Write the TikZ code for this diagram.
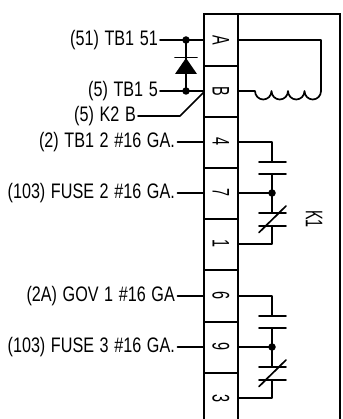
\documentclass[tikz,border=0pt]{standalone}
\usepackage{fontspec}
\setmainfont[FakeStretch=0.77,WordSpace=1.25]{Liberation Sans}
\newfontfamily\termfont[FakeStretch=0.6]{Liberation Sans}
\begin{document}
\begin{tikzpicture}[x=1pt,y=-1pt,
  wire/.style={line width=1.7pt,line cap=round,line join=round},
  frame/.style={line width=2pt},
  lbl/.style={anchor=east,inner sep=0pt,font=\fontsize{21}{21}\selectfont},
  term/.style={rotate=-90,inner sep=0pt,font=\termfont\fontsize{24}{24}\selectfont},
  dot/.style={circle,fill=black,inner sep=0pt,minimum size=7.5pt}]
\useasboundingbox (0,0) rectangle (342,419);
% frame
\draw[frame] (204,419) -- (204,14.5) -- (340,14.5) -- (340,419);
\draw[frame] (238,14.5) -- (238,419);
\foreach \y in {66,117,168,219,270,322,373} \draw[frame] (204,\y) -- (238,\y);
% terminals
\node[term] (tA) at (221,40) {A};
\node[term] (tB) at (221,91) {B};
\node[term] (t4) at (221,142) {4};
\node[term] (t7) at (221,193) {7};
\node[term] (t1) at (221,244) {1};
\node[term] (t6) at (221,296) {6};
\node[term] (t9) at (221,347) {9};
\node[term] (t3) at (221,398) {3};
\node[term] (k1) at (314,219) {K1};
% labels
\node[lbl] (l51) at (158,40) {(51) TB1 51};
\node[lbl] (l5) at (158,91) {(5) TB1 5};
\node[lbl] (lk2) at (136,116) {(5) K2 B};
\node[lbl] (l2) at (175,142) {(2) TB1 2 \#16 GA.};
\node[lbl] (l103) at (175,193) {(103) FUSE 2 \#16 GA.};
\node[lbl] (l2a) at (175,296) {(2A) GOV 1 \#16 GA};
\node[lbl] (l1033) at (175,347) {(103) FUSE 3 \#16 GA.};
% wires
\coordinate (pA) at (204,40); \coordinate (pB) at (204,91);
\coordinate (dA) at (186,40); \coordinate (dB) at (186,91);
\draw[wire] (l51.east) ++(2,0) -- (pA);
\draw[wire] (l5.east) ++(2,0) -- (pB);
\draw[wire] (lk2.east) ++(2,0) -- (180,116) -- (204,92);
\draw[wire] (dA) -- (dB);
\node[dot] at (dA) {}; \node[dot] at (dB) {};
\fill (186,58) -- (197,74) -- (175,74) -- cycle;
\draw[wire] (175,57.5) -- (197,57.5);
% coil
\draw[wire] (238,40) -- (321,40) -- (321,91);
\draw[wire] (238,91) -- (255,91)
  arc[start angle=180,end angle=360,x radius=8.25,y radius=-8.5]
  arc[start angle=180,end angle=360,x radius=8.25,y radius=-8.5]
  arc[start angle=180,end angle=360,x radius=8.25,y radius=-8.5]
  arc[start angle=180,end angle=360,x radius=8.25,y radius=-8.5];
% left stubs
\foreach \s/\y in {l2/142,l103/193,l2a/296,l1033/347} \draw[wire] (\s.east) ++(2.5,0) -- (204,\y);
% contacts
\foreach \o in {0,154}{
 \begin{scope}[yshift=-\o pt]
 \draw[wire] (238,142) -- (272,142) -- (272,161.7);
 \draw[wire] (259,161.7) -- (286,161.7);
 \draw[wire] (259,174.3) -- (286,174.3);
 \draw[wire] (272,174.3) -- (272,212.7);
 \draw[wire] (238,193) -- (272,193);
 \node[dot] at (272,193) {};
 \draw[wire] (259,212.7) -- (286,212.7);
 \draw[wire] (259,225.7) -- (286,225.7);
 \draw[wire] (272,225.7) -- (272,244) -- (238,244);
 \draw[wire] (259,232.5) -- (286,206);
 \end{scope}}
\end{tikzpicture}
\end{document}
